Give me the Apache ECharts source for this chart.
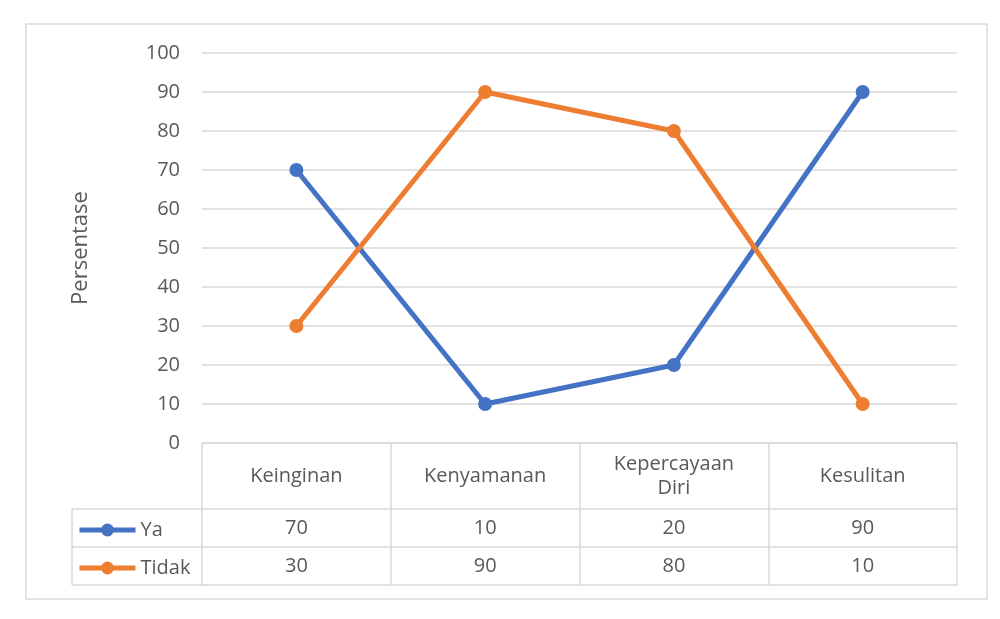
<!DOCTYPE html>
<html>
<head>
<meta charset="utf-8">
<script src="https://cdn.jsdelivr.net/npm/echarts@6/dist/echarts.min.js"></script>
<style>
html,body{margin:0;padding:0;background:#fff;}
#c{width:1000px;height:619px;}
</style>
</head>
<body>
<div id="c"></div>
<script>
const categories = ['Keinginan', 'Kenyamanan', 'Kepercayaan\nDiri', 'Kesulitan'];
const seriesNames = ['Ya', 'Tidak'];
const yaValues = [70, 10, 20, 90];
const tidakValues = [30, 90, 80, 10];
const yTicks = { min: 0, max: 100, interval: 10 };
const axisTitle = 'Persentase';

const FONT = 'Open Sans';
const TXT = '#595959';
const GRID = '#d9d9d9';
const BLUE = '#4472C4';
const ORANGE = '#ED7D31';
const FS = 20;

const chart = echarts.init(document.getElementById('c'), null, { renderer: 'canvas' });

const gl = { left: 202, top: 53, width: 755, height: 390 };
const row1 = 66, row2 = 38;

function tableAxis(labels, offset, labelOffset, showLabel) {
  return {
    type: 'category', gridIndex: 0, position: 'bottom', offset: offset,
    data: labels, boundaryGap: true,
    axisLine: { show: true, lineStyle: { color: GRID, width: 1.5 } },
    axisTick: { show: false },
    splitLine: { show: false },
    axisLabel: { show: showLabel, interval: 0, margin: labelOffset, verticalAlign: 'middle',
      fontFamily: FONT, fontSize: FS, color: TXT }
  };
}

const option = {
  animation: false,
  backgroundColor: '#fff',
  textStyle: { fontFamily: FONT },
  grid: { left: gl.left, top: gl.top, width: gl.width, height: gl.height, containLabel: false },
  legend: {
    orient: 'vertical', left: 72, top: 514,
    itemWidth: 56, itemHeight: 16, itemGap: 16,
    data: seriesNames,
    lineStyle: { width: 5 },
    textStyle: { fontFamily: FONT, fontSize: FS, color: TXT, lineHeight: 22 }
  },
  xAxis: [
    {
      type: 'category', gridIndex: 0, position: 'bottom', data: categories, boundaryGap: true,
      axisLine: { show: true, lineStyle: { color: GRID, width: 1.5 } },
      axisTick: { show: true, interval: 0, length: row1 + 2 * row2, lineStyle: { color: GRID, width: 1.5 } },
      axisLabel: { interval: 0, margin: row1 / 2, verticalAlign: 'middle', lineHeight: 24,
        fontFamily: FONT, fontSize: FS, color: TXT }
    },
    tableAxis(yaValues.map(String), row1, row2 / 2, true),
    tableAxis(tidakValues.map(String), row1 + row2, row2 / 2, true),
    tableAxis(categories, row1 + 2 * row2, 10, false)
  ],
  yAxis: {
    type: 'value', min: yTicks.min, max: yTicks.max, interval: yTicks.interval,
    name: axisTitle, nameLocation: 'middle', nameGap: 110,
    nameTextStyle: { fontFamily: FONT, fontSize: 22, color: TXT },
    axisLine: { show: false }, axisTick: { show: false },
    splitLine: { show: true, lineStyle: { color: GRID, width: 1.5 } },
    axisLabel: { margin: 22, fontFamily: FONT, fontSize: FS, color: TXT }
  },
  series: [
    { name: seriesNames[0], type: 'line', data: yaValues, xAxisIndex: 0,
      symbol: 'circle', symbolSize: 14, color: BLUE,
      lineStyle: { width: 5, color: BLUE }, itemStyle: { color: BLUE } },
    { name: seriesNames[1], type: 'line', data: tidakValues, xAxisIndex: 0,
      symbol: 'circle', symbolSize: 14, color: ORANGE,
      lineStyle: { width: 5, color: ORANGE }, itemStyle: { color: ORANGE } }
  ],
  graphic: [
    { type: 'rect', shape: { x: 26, y: 24, width: 961, height: 575 }, silent: true, z: -10,
      style: { fill: 'none', stroke: GRID, lineWidth: 1.5 } },
    { type: 'line', shape: { x1: 72, y1: 443 + row1, x2: 202, y2: 443 + row1 }, style: { stroke: GRID, lineWidth: 1.5 } },
    { type: 'line', shape: { x1: 72, y1: 443 + row1 + row2, x2: 202, y2: 443 + row1 + row2 }, style: { stroke: GRID, lineWidth: 1.5 } },
    { type: 'line', shape: { x1: 72, y1: 443 + row1 + 2 * row2, x2: 202, y2: 443 + row1 + 2 * row2 }, style: { stroke: GRID, lineWidth: 1.5 } },
    { type: 'line', shape: { x1: 72, y1: 443 + row1, x2: 72, y2: 443 + row1 + 2 * row2 }, style: { stroke: GRID, lineWidth: 1.5 } }
  ]
};
chart.setOption(option);
</script>
</body>
</html>
